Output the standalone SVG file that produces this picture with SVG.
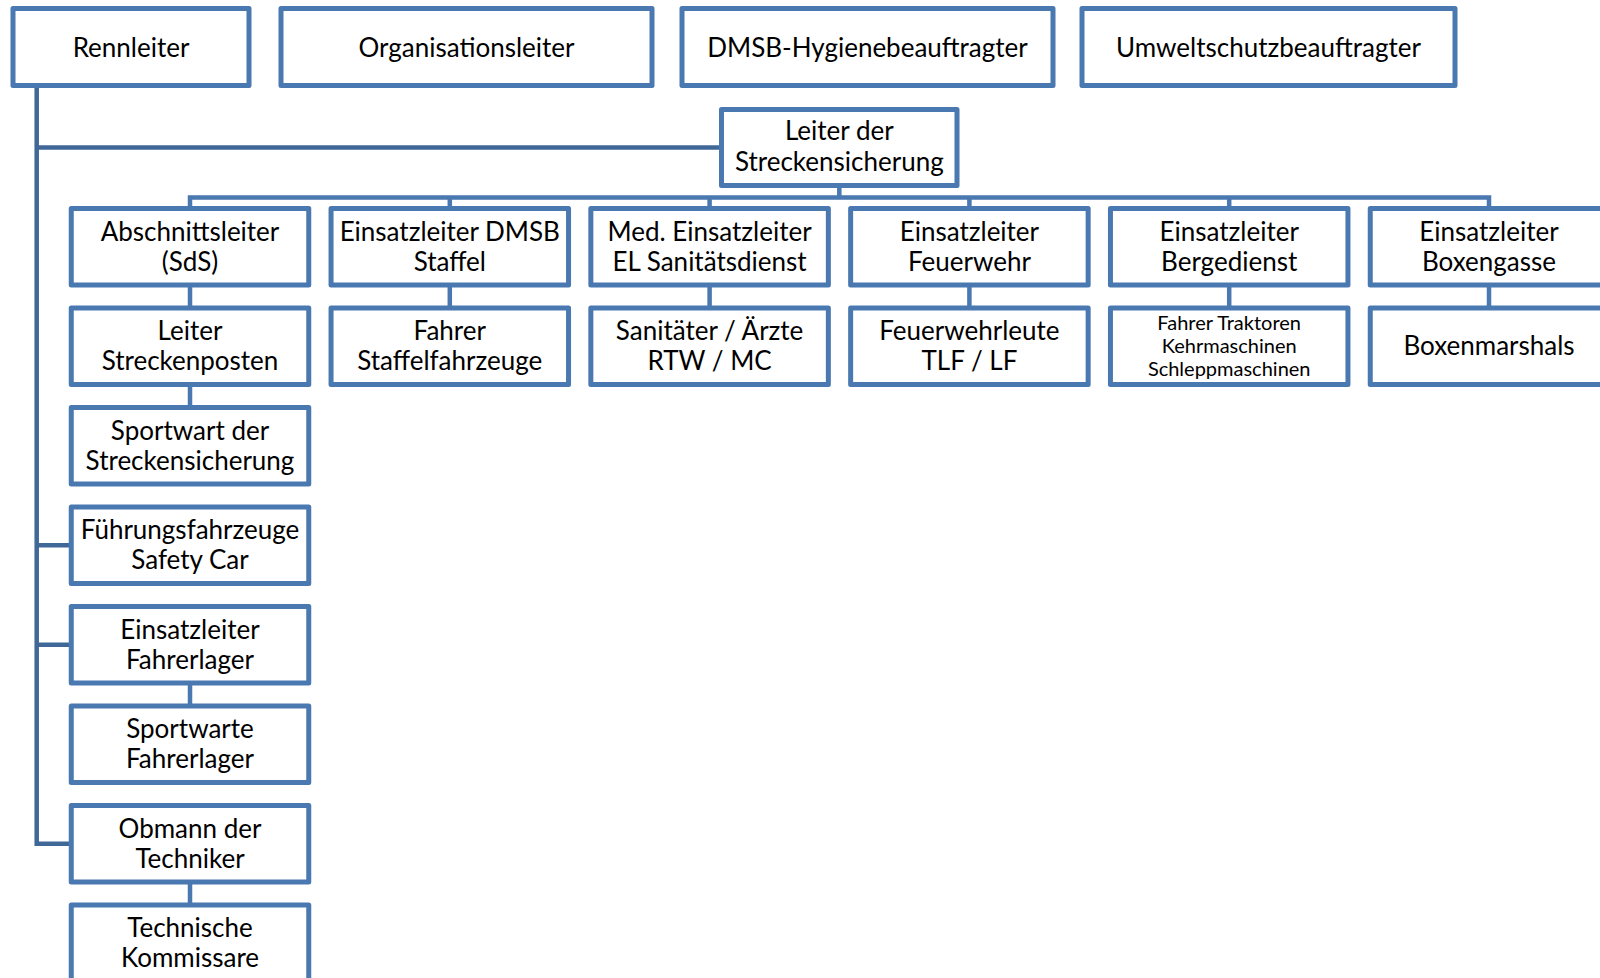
<svg xmlns="http://www.w3.org/2000/svg" width="1600" height="978" viewBox="0 0 1600 978">
<style>
.box{fill:#ffffff;stroke:#4a78b0;stroke-width:5;stroke-linejoin:round}
.t{font-family:Lato,"Open Sans","Liberation Sans",sans-serif;font-size:26px;fill:#000;text-anchor:middle}
.s{font-family:Lato,"Open Sans","Liberation Sans",sans-serif;font-size:20px;fill:#000;text-anchor:middle}
.c{fill:none;stroke:#4a78b0;stroke-width:4.5}
.cd{fill:none;stroke:#3f6899;stroke-width:4.5}
</style>
<rect x="0" y="0" width="1600" height="978" fill="#ffffff"/>
<g id="connectors">
<path class="cd" d="M36.7,86 V843.75 H71.25"/>
<path class="cd" d="M36.7,147.5 H721.5"/>
<path class="cd" d="M36.7,545.25 H71.25"/>
<path class="cd" d="M36.7,644.75 H71.25"/>
<path class="c" d="M839.3,185.5 V197.5"/>
<path class="c" d="M190,208.5 V197.5 H1489 V208.5"/>
<path class="c" d="M449.8,197.5 V208.5 M709.6,197.5 V208.5 M969.4,197.5 V208.5 M1229.2,197.5 V208.5"/>
<path class="c" d="M190,285 V308 M449.8,285 V308 M709.6,285 V308 M969.4,285 V308 M1229.2,285 V308 M1489,285 V308"/>
<path class="c" d="M190,384.5 V407.5 M190,683 V706 M190,882 V905"/>
</g>
<g id="rennleiter"><rect class="box" x="13" y="8.5" width="236" height="77"/><text class="t" x="131" y="57">Rennleiter</text></g>
<g id="organisationsleiter"><rect class="box" x="281" y="8.5" width="371" height="77"/><text class="t" x="466.5" y="57">Organisationsleiter</text></g>
<g id="hygiene"><rect class="box" x="682" y="8.5" width="371" height="77"/><text class="t" x="867.5" y="57">DMSB-Hygienebeauftragter</text></g>
<g id="umwelt"><rect class="box" x="1082" y="8.5" width="373" height="77"/><text class="t" x="1268.5" y="57">Umweltschutzbeauftragter</text></g>
<g id="leiter-streckensicherung"><rect class="box" x="721.5" y="109.5" width="235.5" height="76"/><text class="t" x="839.3" y="140">Leiter der</text><text class="t" x="839.3" y="170.5">Streckensicherung</text></g>

<g id="abschnittsleiter"><rect class="box" x="71.25" y="208.5" width="237.5" height="76.5"/><text class="t" x="190" y="240.75">Abschnittsleiter</text><text class="t" x="190" y="270.75">(SdS)</text></g>
<g id="einsatzleiter-dmsb"><rect class="box" x="331.05" y="208.5" width="237.5" height="76.5"/><text class="t" x="449.8" y="240.75">Einsatzleiter DMSB</text><text class="t" x="449.8" y="270.75">Staffel</text></g>
<g id="med-einsatzleiter"><rect class="box" x="590.85" y="208.5" width="237.5" height="76.5"/><text class="t" x="709.6" y="240.75">Med. Einsatzleiter</text><text class="t" x="709.6" y="270.75">EL Sanitätsdienst</text></g>
<g id="einsatzleiter-feuerwehr"><rect class="box" x="850.65" y="208.5" width="237.5" height="76.5"/><text class="t" x="969.4" y="240.75">Einsatzleiter</text><text class="t" x="969.4" y="270.75">Feuerwehr</text></g>
<g id="einsatzleiter-bergedienst"><rect class="box" x="1110.45" y="208.5" width="237.5" height="76.5"/><text class="t" x="1229.2" y="240.75">Einsatzleiter</text><text class="t" x="1229.2" y="270.75">Bergedienst</text></g>
<g id="einsatzleiter-boxengasse"><rect class="box" x="1370.25" y="208.5" width="237.5" height="76.5"/><text class="t" x="1489" y="240.75">Einsatzleiter</text><text class="t" x="1489" y="270.75">Boxengasse</text></g>

<g id="leiter-streckenposten"><rect class="box" x="71.25" y="308" width="237.5" height="76.5"/><text class="t" x="190" y="340.25">Leiter</text><text class="t" x="190" y="370.25">Streckenposten</text></g>
<g id="fahrer-staffel"><rect class="box" x="331.05" y="308" width="237.5" height="76.5"/><text class="t" x="449.8" y="340.25">Fahrer</text><text class="t" x="449.8" y="370.25">Staffelfahrzeuge</text></g>
<g id="sanitaeter"><rect class="box" x="590.85" y="308" width="237.5" height="76.5"/><text class="t" x="709.6" y="340.25">Sanitäter / Ärzte</text><text class="t" x="709.6" y="370.25">RTW / MC</text></g>
<g id="feuerwehrleute"><rect class="box" x="850.65" y="308" width="237.5" height="76.5"/><text class="t" x="969.4" y="340.25">Feuerwehrleute</text><text class="t" x="969.4" y="370.25">TLF / LF</text></g>
<g id="fahrer-traktoren"><rect class="box" x="1110.45" y="308" width="237.5" height="76.5"/><text class="s" x="1229.2" y="329.5">Fahrer Traktoren</text><text class="s" x="1229.2" y="352.8">Kehrmaschinen</text><text class="s" x="1229.2" y="376">Schleppmaschinen</text></g>
<g id="boxenmarshals"><rect class="box" x="1370.25" y="308" width="237.5" height="76.5"/><text class="t" x="1489" y="355">Boxenmarshals</text></g>

<g id="sportwart-streckensicherung"><rect class="box" x="71.25" y="407.5" width="237.5" height="76.5"/><text class="t" x="190" y="439.75">Sportwart der</text><text class="t" x="190" y="469.75">Streckensicherung</text></g>
<g id="fuehrungsfahrzeuge"><rect class="box" x="71.25" y="507" width="237.5" height="76.5"/><text class="t" x="190" y="539.25">Führungsfahrzeuge</text><text class="t" x="190" y="569.25">Safety Car</text></g>
<g id="einsatzleiter-fahrerlager"><rect class="box" x="71.25" y="606.5" width="237.5" height="76.5"/><text class="t" x="190" y="638.75">Einsatzleiter</text><text class="t" x="190" y="668.75">Fahrerlager</text></g>
<g id="sportwarte-fahrerlager"><rect class="box" x="71.25" y="706" width="237.5" height="76.5"/><text class="t" x="190" y="738.25">Sportwarte</text><text class="t" x="190" y="768.25">Fahrerlager</text></g>
<g id="obmann-techniker"><rect class="box" x="71.25" y="805.5" width="237.5" height="76.5"/><text class="t" x="190" y="837.75">Obmann der</text><text class="t" x="190" y="867.75">Techniker</text></g>
<g id="technische-kommissare"><rect class="box" x="71.25" y="905" width="237.5" height="76.5"/><text class="t" x="190" y="937.25">Technische</text><text class="t" x="190" y="967.25">Kommissare</text></g>
</svg>
